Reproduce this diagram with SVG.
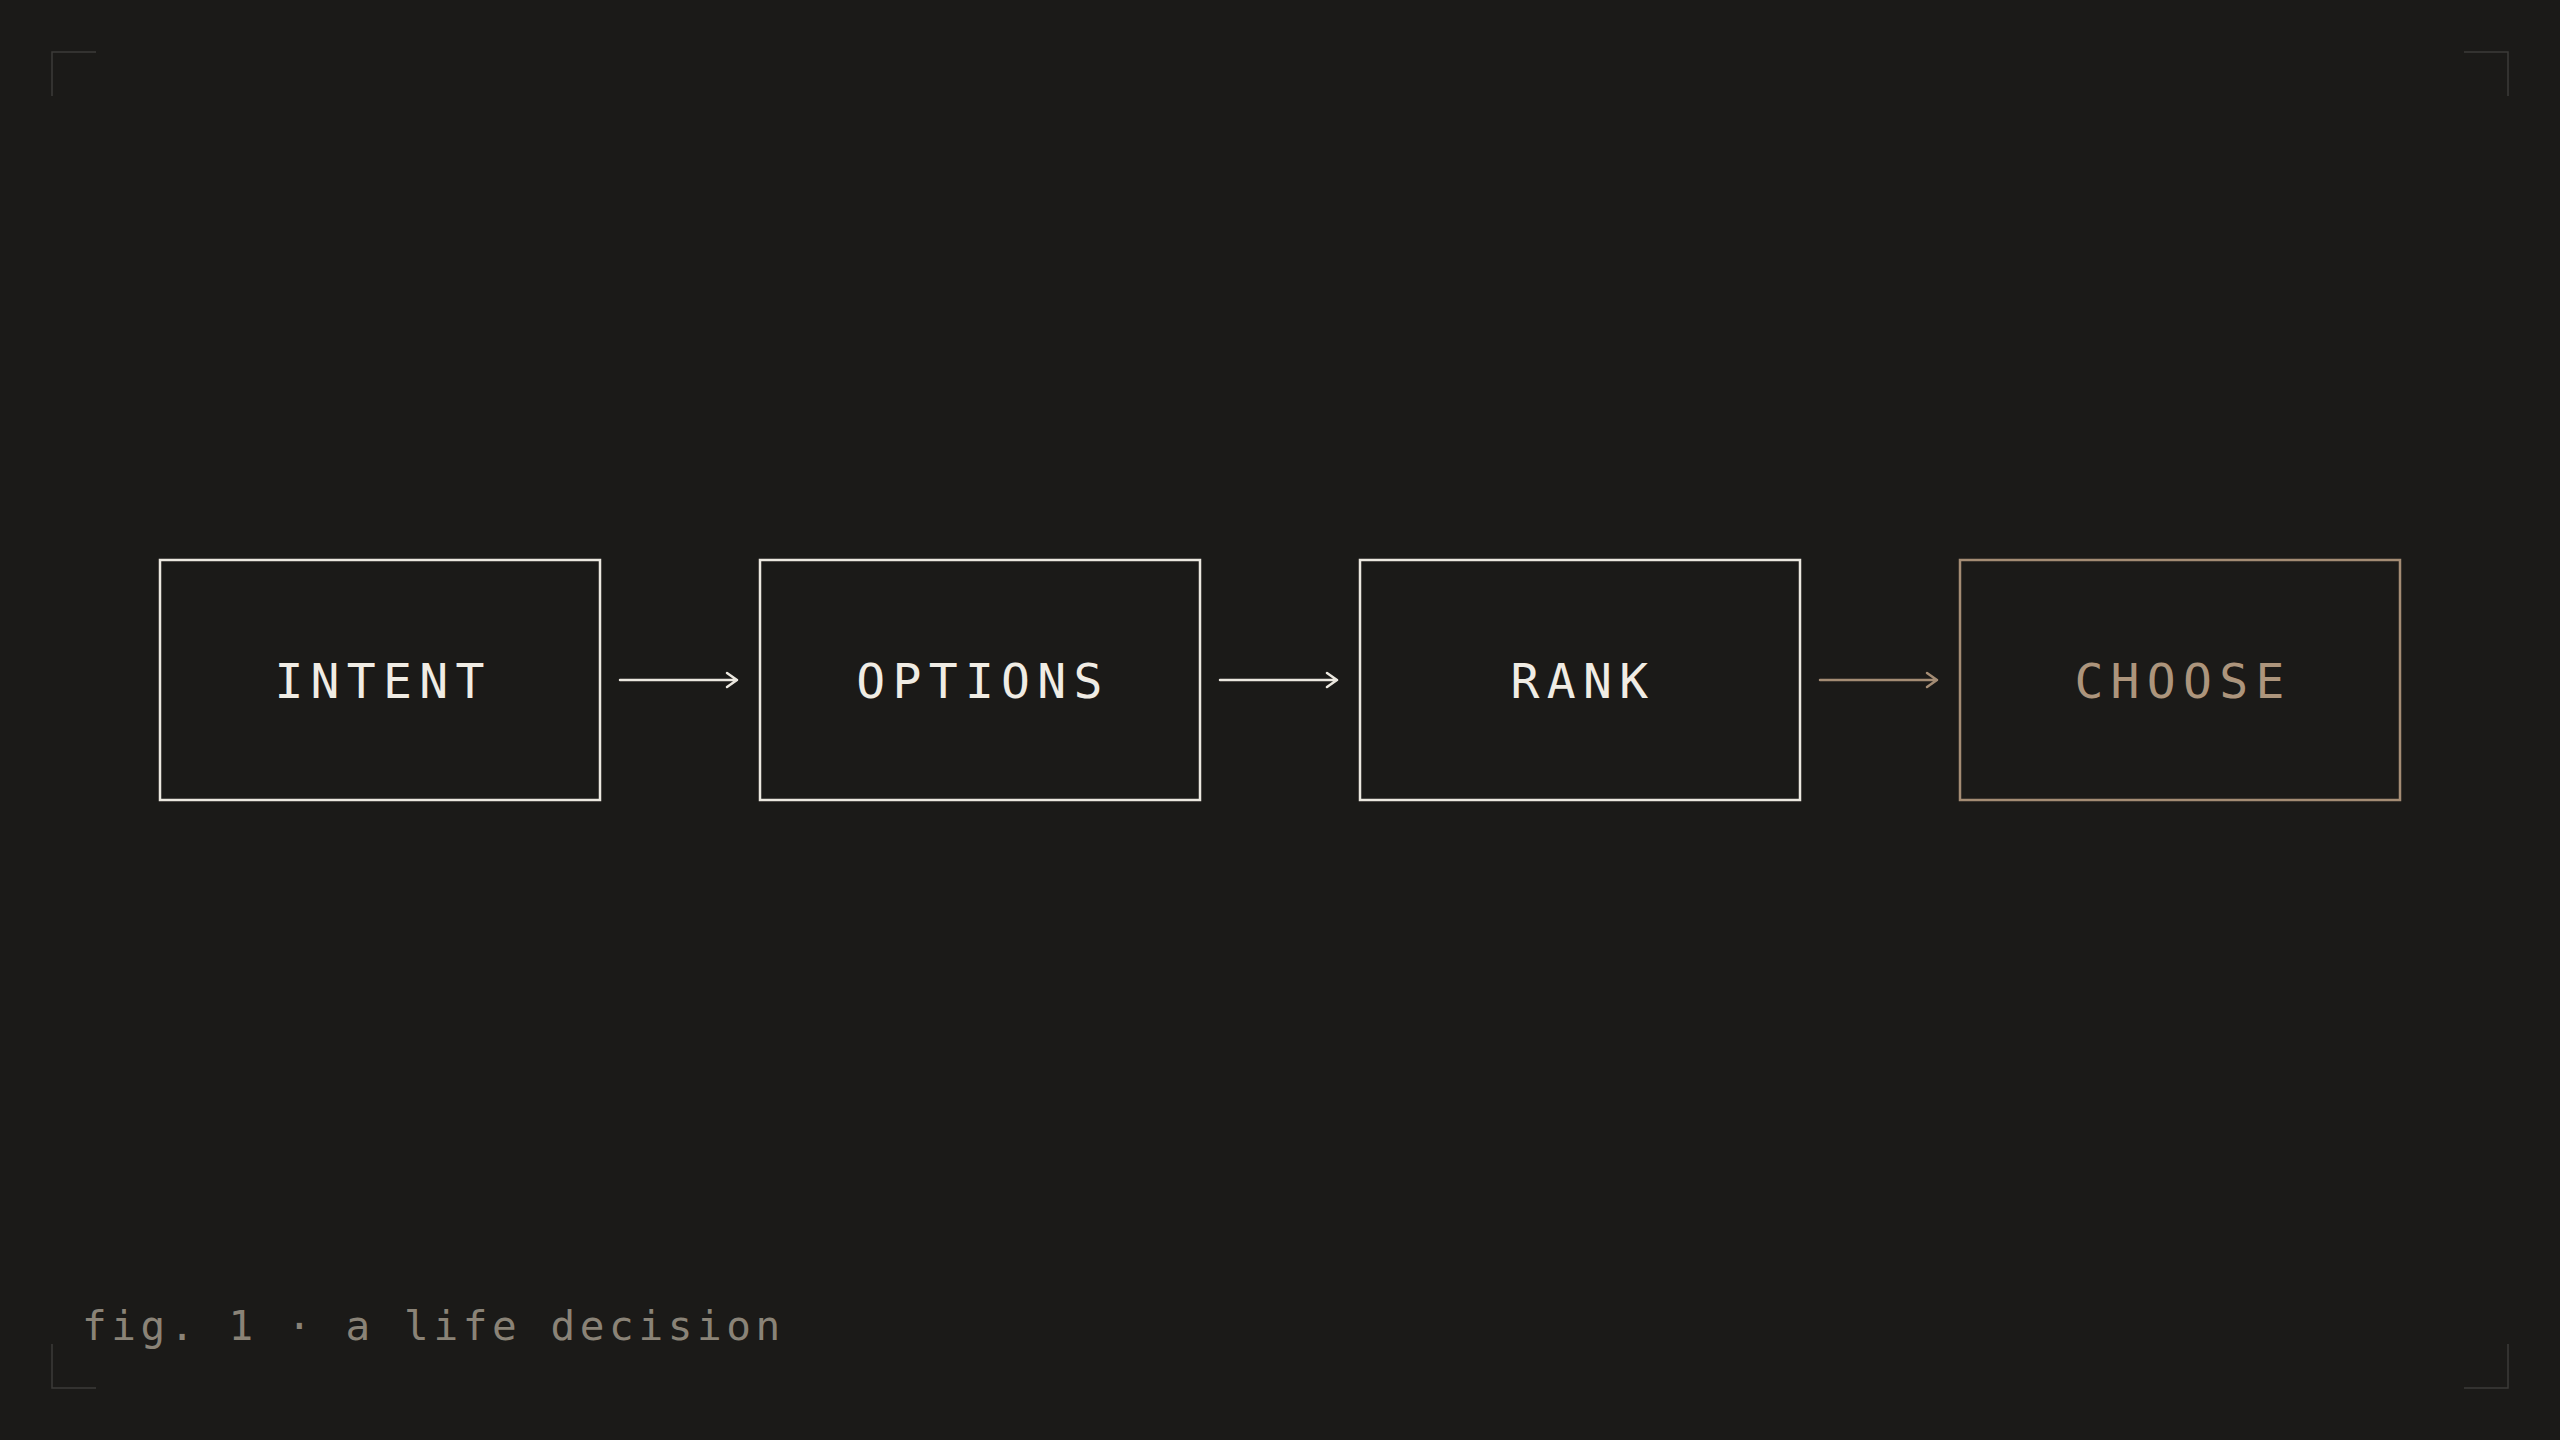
<svg xmlns="http://www.w3.org/2000/svg" width="2560" height="1440" viewBox="0 0 2560 1440">
<defs>
<style>
.bg{fill:#1b1a18}
.corner{fill:none;stroke:#3d3b38;stroke-width:1.5}
.box{fill:#1b1a18;stroke:#ebe7df;stroke-width:2.5}
.box.accent{stroke:#a48c74}
.lbl{font-family:"DejaVu Sans Mono","Liberation Mono",monospace;font-size:48px;letter-spacing:7.3px;fill:#f0ece4;text-anchor:middle}
.lbl.accent{fill:#ad957c}
.edge{fill:none;stroke:#ebe7df;stroke-width:2.5;stroke-linecap:round;stroke-linejoin:round}
.edge.accent{stroke:#a48c74}
.cap{font-family:"DejaVu Sans Mono","Liberation Mono",monospace;font-size:41px;letter-spacing:4.6px;fill:#8a8377}
</style>
</defs>
<rect class="bg" x="0" y="0" width="2560" height="1440"/>
<g id="corners">
<path class="corner" d="M52 96 V52 H96"/>
<path class="corner" d="M2464 52 H2508 V96"/>
<path class="corner" d="M52 1344 V1388 H96"/>
<path class="corner" d="M2464 1388 H2508 V1344"/>
</g>
<g id="connectors">
<path class="edge" d="M620 680 H737 M727 673 L737 680 L727 687"/>
<path class="edge" d="M1220 680 H1337 M1327 673 L1337 680 L1327 687"/>
<path class="edge accent" d="M1820 680 H1937 M1927 673 L1937 680 L1927 687"/>
</g>
<g id="node-intent">
<rect class="box" x="160" y="560" width="440" height="240"/>
<text class="lbl" x="383" y="698">INTENT</text>
</g>
<g id="node-options">
<rect class="box" x="760" y="560" width="440" height="240"/>
<text class="lbl" x="983" y="698">OPTIONS</text>
</g>
<g id="node-rank">
<rect class="box" x="1360" y="560" width="440" height="240"/>
<text class="lbl" x="1583" y="698">RANK</text>
</g>
<g id="node-choose">
<rect class="box accent" x="1960" y="560" width="440" height="240"/>
<text class="lbl accent" x="2183" y="698">CHOOSE</text>
</g>
<text class="cap" x="82" y="1340">fig. 1 · a life decision</text>
</svg>
